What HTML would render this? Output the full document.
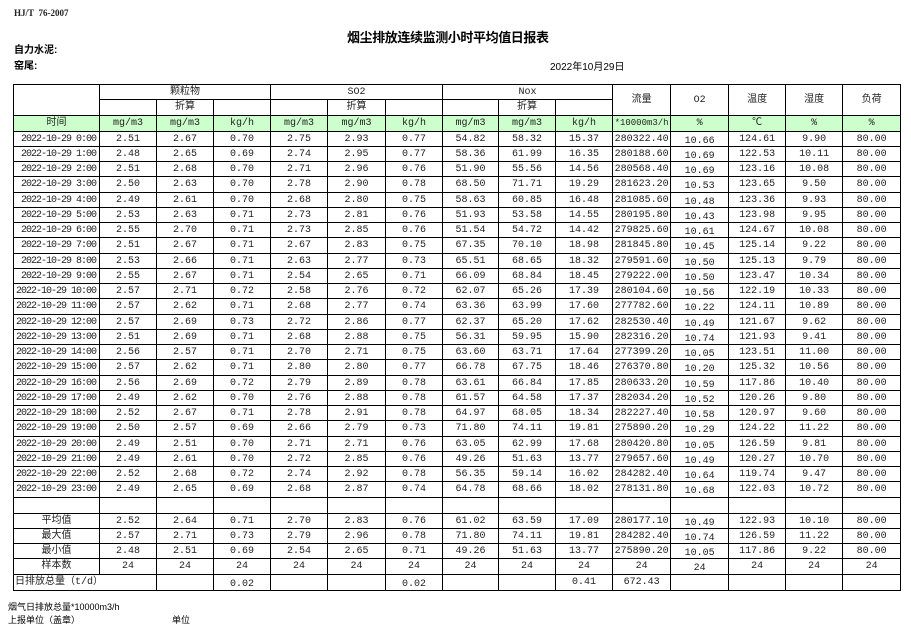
<!DOCTYPE html>
<html><head><meta charset="utf-8"><style>
body{margin:0;width:911px;height:633px;background:#fff;position:relative;overflow:hidden;font-family:"Liberation Mono","Noto Sans CJK SC",monospace;color:#222}
.a{position:absolute;white-space:nowrap}
table{position:absolute;left:13px;top:84px;width:888px;border-collapse:collapse;table-layout:fixed;font-size:10px}
td{border:1px solid #000;padding:0;text-align:center;overflow:hidden;white-space:nowrap;line-height:11px;vertical-align:middle}
tr.g td{background:#ccffcc}
td.t{text-align:right;padding-right:3px;font-size:10px;letter-spacing:-1px}
td.o span{position:relative;top:2px}
tr.d td{height:14px}
tr.e td{height:15px}
</style></head><body>
<div class="a" style="left:14px;top:8px;font:bold 9px 'Liberation Serif',serif">HJ/T&nbsp;&nbsp;76-2007</div>
<div class="a" style="left:347px;top:27px;font:bold 13px 'Liberation Sans','Noto Sans CJK SC',sans-serif;letter-spacing:-0.4px;color:#000">烟尘排放连续监测小时平均值日报表</div>
<div class="a" style="left:14px;top:41px;font:bold 10px 'Liberation Sans','Noto Sans CJK SC',sans-serif;color:#000">自力水泥:</div>
<div class="a" style="left:14px;top:57px;font:bold 10px 'Liberation Sans','Noto Sans CJK SC',sans-serif;color:#000">窑尾:</div>
<div class="a" style="left:550px;top:58px;font:10px 'Liberation Sans','Noto Sans CJK SC',sans-serif;color:#000">2022年10月29日</div>
<table>
<colgroup><col style="width:86px"><col style="width:57px"><col style="width:57px"><col style="width:57px"><col style="width:57px"><col style="width:58px"><col style="width:57px"><col style="width:56px"><col style="width:57px"><col style="width:57px"><col style="width:58px"><col style="width:58px"><col style="width:57px"><col style="width:57px"><col style="width:58px"></colgroup>
<tr class="d"><td rowspan="2"></td><td colspan="3">颗粒物</td><td colspan="3">SO2</td><td colspan="3">Nox</td><td rowspan="2">流量</td><td rowspan="2">O2</td><td rowspan="2">温度</td><td rowspan="2">湿度</td><td rowspan="2">负荷</td></tr>
<tr class="e"><td></td><td>折算</td><td></td><td></td><td>折算</td><td></td><td></td><td>折算</td><td></td></tr>
<tr class="g e"><td>时间</td><td>mg/m3</td><td>mg/m3</td><td>kg/h</td><td>mg/m3</td><td>mg/m3</td><td>kg/h</td><td>mg/m3</td><td>mg/m3</td><td>kg/h</td><td style="font-size:9px">*10000m3/h</td><td>%</td><td>℃</td><td>%</td><td>%</td></tr>
<tr class="d"><td class="t">2022-10-29 0:00</td><td>2.51</td><td>2.67</td><td>0.70</td><td>2.75</td><td>2.93</td><td>0.77</td><td>54.82</td><td>58.32</td><td>15.37</td><td>280322.40</td><td class="o"><span>10.66</span></td><td>124.61</td><td>9.90</td><td>80.00</td></tr>
<tr class="d"><td class="t">2022-10-29 1:00</td><td>2.48</td><td>2.65</td><td>0.69</td><td>2.74</td><td>2.95</td><td>0.77</td><td>58.36</td><td>61.99</td><td>16.35</td><td>280188.60</td><td class="o"><span>10.69</span></td><td>122.53</td><td>10.11</td><td>80.00</td></tr>
<tr class="d"><td class="t">2022-10-29 2:00</td><td>2.51</td><td>2.68</td><td>0.70</td><td>2.71</td><td>2.96</td><td>0.76</td><td>51.90</td><td>55.56</td><td>14.56</td><td>280568.40</td><td class="o"><span>10.69</span></td><td>123.16</td><td>10.08</td><td>80.00</td></tr>
<tr class="e"><td class="t">2022-10-29 3:00</td><td>2.50</td><td>2.63</td><td>0.70</td><td>2.78</td><td>2.90</td><td>0.78</td><td>68.50</td><td>71.71</td><td>19.29</td><td>281623.20</td><td class="o"><span>10.53</span></td><td>123.65</td><td>9.50</td><td>80.00</td></tr>
<tr class="d"><td class="t">2022-10-29 4:00</td><td>2.49</td><td>2.61</td><td>0.70</td><td>2.68</td><td>2.80</td><td>0.75</td><td>58.63</td><td>60.85</td><td>16.48</td><td>281085.60</td><td class="o"><span>10.48</span></td><td>123.36</td><td>9.93</td><td>80.00</td></tr>
<tr class="d"><td class="t">2022-10-29 5:00</td><td>2.53</td><td>2.63</td><td>0.71</td><td>2.73</td><td>2.81</td><td>0.76</td><td>51.93</td><td>53.58</td><td>14.55</td><td>280195.80</td><td class="o"><span>10.43</span></td><td>123.98</td><td>9.95</td><td>80.00</td></tr>
<tr class="d"><td class="t">2022-10-29 6:00</td><td>2.55</td><td>2.70</td><td>0.71</td><td>2.73</td><td>2.85</td><td>0.76</td><td>51.54</td><td>54.72</td><td>14.42</td><td>279825.60</td><td class="o"><span>10.61</span></td><td>124.67</td><td>10.08</td><td>80.00</td></tr>
<tr class="e"><td class="t">2022-10-29 7:00</td><td>2.51</td><td>2.67</td><td>0.71</td><td>2.67</td><td>2.83</td><td>0.75</td><td>67.35</td><td>70.10</td><td>18.98</td><td>281845.80</td><td class="o"><span>10.45</span></td><td>125.14</td><td>9.22</td><td>80.00</td></tr>
<tr class="d"><td class="t">2022-10-29 8:00</td><td>2.53</td><td>2.66</td><td>0.71</td><td>2.63</td><td>2.77</td><td>0.73</td><td>65.51</td><td>68.65</td><td>18.32</td><td>279591.60</td><td class="o"><span>10.50</span></td><td>125.13</td><td>9.79</td><td>80.00</td></tr>
<tr class="d"><td class="t">2022-10-29 9:00</td><td>2.55</td><td>2.67</td><td>0.71</td><td>2.54</td><td>2.65</td><td>0.71</td><td>66.09</td><td>68.84</td><td>18.45</td><td>279222.00</td><td class="o"><span>10.50</span></td><td>123.47</td><td>10.34</td><td>80.00</td></tr>
<tr class="d"><td class="t">2022-10-29 10:00</td><td>2.57</td><td>2.71</td><td>0.72</td><td>2.58</td><td>2.76</td><td>0.72</td><td>62.07</td><td>65.26</td><td>17.39</td><td>280104.60</td><td class="o"><span>10.56</span></td><td>122.19</td><td>10.33</td><td>80.00</td></tr>
<tr class="e"><td class="t">2022-10-29 11:00</td><td>2.57</td><td>2.62</td><td>0.71</td><td>2.68</td><td>2.77</td><td>0.74</td><td>63.36</td><td>63.99</td><td>17.60</td><td>277782.60</td><td class="o"><span>10.22</span></td><td>124.11</td><td>10.89</td><td>80.00</td></tr>
<tr class="d"><td class="t">2022-10-29 12:00</td><td>2.57</td><td>2.69</td><td>0.73</td><td>2.72</td><td>2.86</td><td>0.77</td><td>62.37</td><td>65.20</td><td>17.62</td><td>282530.40</td><td class="o"><span>10.49</span></td><td>121.67</td><td>9.62</td><td>80.00</td></tr>
<tr class="d"><td class="t">2022-10-29 13:00</td><td>2.51</td><td>2.69</td><td>0.71</td><td>2.68</td><td>2.88</td><td>0.75</td><td>56.31</td><td>59.95</td><td>15.90</td><td>282316.20</td><td class="o"><span>10.74</span></td><td>121.93</td><td>9.41</td><td>80.00</td></tr>
<tr class="d"><td class="t">2022-10-29 14:00</td><td>2.56</td><td>2.57</td><td>0.71</td><td>2.70</td><td>2.71</td><td>0.75</td><td>63.60</td><td>63.71</td><td>17.64</td><td>277399.20</td><td class="o"><span>10.05</span></td><td>123.51</td><td>11.00</td><td>80.00</td></tr>
<tr class="e"><td class="t">2022-10-29 15:00</td><td>2.57</td><td>2.62</td><td>0.71</td><td>2.80</td><td>2.80</td><td>0.77</td><td>66.78</td><td>67.75</td><td>18.46</td><td>276370.80</td><td class="o"><span>10.20</span></td><td>125.32</td><td>10.56</td><td>80.00</td></tr>
<tr class="d"><td class="t">2022-10-29 16:00</td><td>2.56</td><td>2.69</td><td>0.72</td><td>2.79</td><td>2.89</td><td>0.78</td><td>63.61</td><td>66.84</td><td>17.85</td><td>280633.20</td><td class="o"><span>10.59</span></td><td>117.86</td><td>10.40</td><td>80.00</td></tr>
<tr class="d"><td class="t">2022-10-29 17:00</td><td>2.49</td><td>2.62</td><td>0.70</td><td>2.76</td><td>2.88</td><td>0.78</td><td>61.57</td><td>64.58</td><td>17.37</td><td>282034.20</td><td class="o"><span>10.52</span></td><td>120.26</td><td>9.80</td><td>80.00</td></tr>
<tr class="d"><td class="t">2022-10-29 18:00</td><td>2.52</td><td>2.67</td><td>0.71</td><td>2.78</td><td>2.91</td><td>0.78</td><td>64.97</td><td>68.05</td><td>18.34</td><td>282227.40</td><td class="o"><span>10.58</span></td><td>120.97</td><td>9.60</td><td>80.00</td></tr>
<tr class="e"><td class="t">2022-10-29 19:00</td><td>2.50</td><td>2.57</td><td>0.69</td><td>2.66</td><td>2.79</td><td>0.73</td><td>71.80</td><td>74.11</td><td>19.81</td><td>275890.20</td><td class="o"><span>10.29</span></td><td>124.22</td><td>11.22</td><td>80.00</td></tr>
<tr class="d"><td class="t">2022-10-29 20:00</td><td>2.49</td><td>2.51</td><td>0.70</td><td>2.71</td><td>2.71</td><td>0.76</td><td>63.05</td><td>62.99</td><td>17.68</td><td>280420.80</td><td class="o"><span>10.05</span></td><td>126.59</td><td>9.81</td><td>80.00</td></tr>
<tr class="d"><td class="t">2022-10-29 21:00</td><td>2.49</td><td>2.61</td><td>0.70</td><td>2.72</td><td>2.85</td><td>0.76</td><td>49.26</td><td>51.63</td><td>13.77</td><td>279657.60</td><td class="o"><span>10.49</span></td><td>120.27</td><td>10.70</td><td>80.00</td></tr>
<tr class="d"><td class="t">2022-10-29 22:00</td><td>2.52</td><td>2.68</td><td>0.72</td><td>2.74</td><td>2.92</td><td>0.78</td><td>56.35</td><td>59.14</td><td>16.02</td><td>284282.40</td><td class="o"><span>10.64</span></td><td>119.74</td><td>9.47</td><td>80.00</td></tr>
<tr class="e"><td class="t">2022-10-29 23:00</td><td>2.49</td><td>2.65</td><td>0.69</td><td>2.68</td><td>2.87</td><td>0.74</td><td>64.78</td><td>68.66</td><td>18.02</td><td>278131.80</td><td class="o"><span>10.68</span></td><td>122.03</td><td>10.72</td><td>80.00</td></tr>
<tr class="e"><td></td><td></td><td></td><td></td><td></td><td></td><td></td><td></td><td></td><td></td><td></td><td></td><td></td><td></td><td></td></tr>
<tr class="d"><td>平均值</td><td>2.52</td><td>2.64</td><td>0.71</td><td>2.70</td><td>2.83</td><td>0.76</td><td>61.02</td><td>63.59</td><td>17.09</td><td>280177.10</td><td class="o"><span>10.49</span></td><td>122.93</td><td>10.10</td><td>80.00</td></tr>
<tr class="d"><td>最大值</td><td>2.57</td><td>2.71</td><td>0.73</td><td>2.79</td><td>2.96</td><td>0.78</td><td>71.80</td><td>74.11</td><td>19.81</td><td>284282.40</td><td class="o"><span>10.74</span></td><td>126.59</td><td>11.22</td><td>80.00</td></tr>
<tr class="d"><td>最小值</td><td>2.48</td><td>2.51</td><td>0.69</td><td>2.54</td><td>2.65</td><td>0.71</td><td>49.26</td><td>51.63</td><td>13.77</td><td>275890.20</td><td class="o"><span>10.05</span></td><td>117.86</td><td>9.22</td><td>80.00</td></tr>
<tr class="e"><td>样本数</td><td>24</td><td>24</td><td>24</td><td>24</td><td>24</td><td>24</td><td>24</td><td>24</td><td>24</td><td>24</td><td class="o"><span>24</span></td><td>24</td><td>24</td><td>24</td></tr>
<tr class="e"><td colspan="2" style="text-align:left;padding-left:1px">日排放总量（t/d）</td><td></td><td class="o"><span>0.02</span></td><td></td><td></td><td class="o"><span>0.02</span></td><td></td><td></td><td>0.41</td><td>672.43</td><td></td><td></td><td></td><td></td></tr>
</table>
<div class="a" style="left:8px;top:600px;font:9px 'Liberation Sans','Noto Sans CJK SC',sans-serif;color:#000">烟气日排放总量*10000m3/h</div>
<div class="a" style="left:8px;top:613px;font:9px 'Liberation Sans','Noto Sans CJK SC',sans-serif;color:#000">上报单位（盖章）</div>
<div class="a" style="left:172px;top:613px;font:9px 'Liberation Sans','Noto Sans CJK SC',sans-serif;color:#000">单位</div>
</body></html>
